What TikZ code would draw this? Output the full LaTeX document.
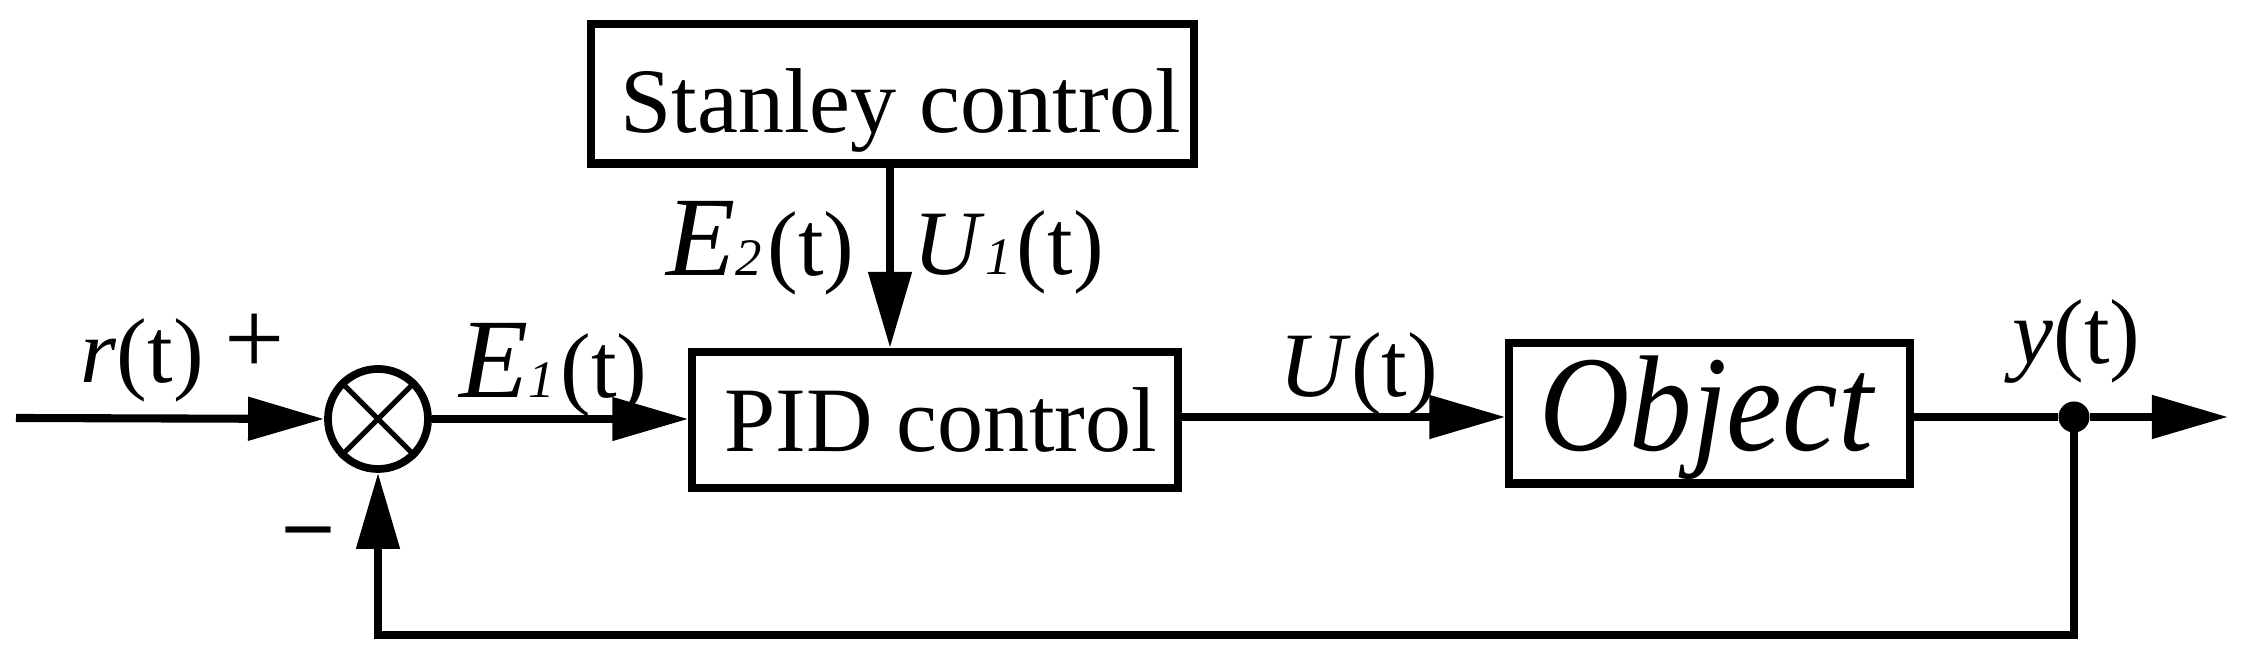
\documentclass[tikz,border=0pt]{standalone}
\usepackage{fontspec}
\setmainfont{Liberation Serif}
\usetikzlibrary{arrows.meta,calc}
\newcommand\bigE{{\fontsize{32.2pt}{34pt}\selectfont\itshape E}}
\newcommand\subn[1]{{\fontsize{15pt}{17pt}\selectfont\itshape #1}\kern1.5pt}
\tikzset{
  blk/.style={draw, rectangle, line width=2.3pt, inner sep=0pt},
  conn/.style={line width=2.3pt},
  arr/.style={conn, -{Triangle[length=0.76cm,width=0.42cm]}},
  lab/.style={inner sep=0pt, font=\fontsize{26.2pt}{30pt}\selectfont},
}
\begin{document}
\begin{tikzpicture}[x=0.01cm,y=-0.01cm]
\useasboundingbox (0,0) rectangle (2244,662);
% blocks
\node[blk, minimum width=6.02cm, minimum height=1.39cm] (stan) at (892.5,94) {};
\node[blk, minimum width=4.85cm, minimum height=1.36cm] (pid) at (935,420) {};
\node[blk, minimum width=4.00cm, minimum height=1.40cm] (obj) at (1709.5,413.5) {};
\node[draw, circle, line width=2.2pt, minimum size=1.0cm, inner sep=0pt] (sum) at (378,419) {};
\draw[line width=1.5pt] (sum.north west) -- (sum.south east) (sum.north east) -- (sum.south west);
\node[circle, fill, inner sep=0pt, minimum size=0.31cm] (dot) at (2074,417) {};
% block texts
\node[lab, anchor=base] (tstan) at (900.5,133) {Stanley control};
\node[lab, anchor=base] (tpid) at (941,452) {PID control};
\node[inner sep=0pt, anchor=base, font=\fontsize{35.6pt}{40pt}\selectfont\itshape] (tobj) at (1706,451) {\scalebox{1}[1.09]{Object}};
% coordinates
\coordinate (in) at (16,418);
\coordinate (out) at (2228,417);
\coordinate (fbl) at (378,635);
% connectors
\draw[arr] (in) -- (sum.west);
\draw[arr] (sum.east) -- (sum.east -| pid.west);
\draw[arr] (stan.south -| 890,0) -- (pid.north -| 890,0);
\draw[arr] (pid.east |- 0,417) -- (obj.west |- 0,417);
\draw[conn] (obj.east |- dot) -- (dot);
\draw[arr] (dot) -- (out);
\draw[arr] (dot.center) |- (fbl) -- (sum.south);
% labels
\node[lab, anchor=base west] (lr) at (80,383) {\textit{r}(t)};
\node[inner sep=0pt, anchor=base west, font=\fontsize{30.4pt}{34pt}\selectfont] (lplus) at (224,375) {+};
\node[inner sep=0pt, anchor=base west, font=\fontsize{25pt}{30pt}\selectfont\bfseries] (lminus) at (286,551) {–};
\node[lab, anchor=base west] (le1) at (459,398) {\bigE\subn{1}(t)};
\node[lab, anchor=base west] (le2) at (666,276) {\bigE\subn{2}(t)};
\node[lab, anchor=base west] (lu1) at (913,275) {\textit{U}\subn{1}(t)};
\node[lab, anchor=base west] (lu) at (1279,397) {\textit{U}(t)};
\node[lab, anchor=base west] (ly) at (2012,364) {\textit{y}(t)};
\end{tikzpicture}
\end{document}
